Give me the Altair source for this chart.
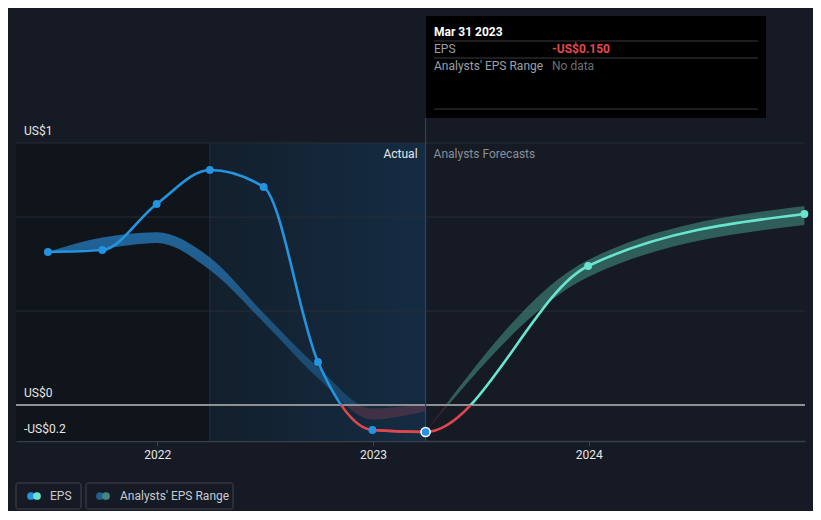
import altair as alt
import pandas as pd

# ---------------- data ----------------
hist_dates = ["2021-06-30", "2021-09-30", "2021-12-31", "2022-03-31",
              "2022-06-30", "2022-09-30", "2022-12-31", "2023-03-31"]
hist_eps = [0.85, 0.861, 1.117, 1.306, 1.211, 0.239, -0.139, -0.15]

past_low = [0.85, 0.87, 0.90, 0.75, 0.46, 0.15, -0.08, -0.035]
past_high = [0.85, 0.93, 0.96, 0.82, 0.51, 0.21, -0.02, 0.005]

fc_dates = ["2023-12-31", "2024-12-31"]
fc_eps = [0.772, 1.061]
fc_low = [0.711, 1.0]
fc_high = [0.806, 1.106]

x_start, x_end = "2021-05-07", "2025-01-01"
y_min, y_max = -0.2, 1.4556
grid_vals = [0.522, 1.044, 1.4556]
ylab_vals = [1.4556, 0.0, -0.2]
ylab_text = ["US$1", "US$0", "-US$0.2"]
year_ticks = ["2022-01-01", "2023-01-01", "2024-01-01"]

W, H = 789, 298

BLUE = "#2394e0"
TURQ = "#68e4cf"
RED = "#e0474c"


def ms(s):
    return int(pd.Timestamp(s).value // 10**6)


# ---------------- tables ----------------
hist_df = pd.DataFrame({"date": hist_dates, "eps": hist_eps})
past_band = pd.DataFrame({"date": hist_dates, "low": past_low, "high": past_high})
fc_line = pd.DataFrame({"date": hist_dates[-2:] + fc_dates, "eps": hist_eps[-2:] + fc_eps})
fc_pts = pd.DataFrame({"date": fc_dates, "eps": fc_eps})
fc_band = pd.DataFrame({"date": hist_dates[-1:] + fc_dates,
                        "low": hist_eps[-1:] + fc_low, "high": hist_eps[-1:] + fc_high})
last_pt = hist_df.tail(1).reset_index(drop=True)
first_pts = hist_df.iloc[:-1].reset_index(drop=True)
grid_df = pd.DataFrame({"y": grid_vals})
ylab_df = pd.DataFrame({"y": ylab_vals, "t": ylab_text})
zero_df = pd.DataFrame({"y": [0.0]})
dark_df = pd.DataFrame({"s": [x_start], "e": [hist_dates[3]]})
act_df = pd.DataFrame({"s": [hist_dates[3]], "e": [hist_dates[-1]]})
one = pd.DataFrame({"k": [0]})
now_df = pd.DataFrame({"date": [hist_dates[-1]]})
mid_df = pd.DataFrame({"date": [hist_dates[3]]})

xs = alt.Scale(type="time", domain=[ms(x_start), ms(x_end)])
ys = alt.Scale(domain=[y_min, y_max], nice=False, zero=False)


def zero_off(hi, lo):
    return float(hi / (hi - lo))


def vgrad(top_col, bot_col, off, top_col2=None):
    stops = [alt.GradientStop(offset=0, color=top_col),
             alt.GradientStop(offset=off, color=top_col2 or top_col),
             alt.GradientStop(offset=off, color=bot_col),
             alt.GradientStop(offset=1, color=bot_col)]
    return alt.LinearGradient(gradient="linear", stops=stops, x1=0, x2=0, y1=0, y2=1)


X = alt.X("date:T", scale=xs, axis=alt.Axis(
    values=[ms(t) for t in year_ticks],
    format="%Y", title=None, grid=False, domainColor="#3b4048", domainWidth=1.5,
    tickColor="#3b4048", tickSize=5, labelColor="#e6e6e6", labelFontSize=12,
    labelPadding=3, labelFont="Roboto"))

layers = []

# ---------------- background regions ----------------
layers.append(alt.Chart(dark_df).mark_rect(fill="#10141b").encode(
    x=alt.X("s:T", scale=xs), x2="e:T", y=alt.value(0), y2=alt.value(H)))
act_grad = alt.LinearGradient(gradient="linear", x1=0, x2=1, y1=0, y2=0, stops=[
    alt.GradientStop(offset=0, color="#131f2c"),
    alt.GradientStop(offset=1, color="#142c43")])
layers.append(alt.Chart(act_df).mark_rect(fill=act_grad).encode(
    x=alt.X("s:T", scale=xs), x2="e:T", y=alt.value(0), y2=alt.value(H)))

layers.append(alt.Chart(grid_df).mark_rule(color="#272d37", strokeWidth=1).encode(
    y=alt.Y("y:Q", scale=ys, axis=None), x=alt.value(0), x2=alt.value(W)))
layers.append(alt.Chart(mid_df).mark_rule(color="#1b3149", strokeWidth=1).encode(
    x=alt.X("date:T", scale=xs), y=alt.value(0), y2=alt.value(H)))

# ---------------- bands ----------------
pb_off = zero_off(max(past_high), min(past_low))
layers.append(alt.Chart(past_band).mark_area(
    interpolate="monotone",
    fill=vgrad("rgba(38,120,185,0.80)", "rgba(130,60,80,0.40)", pb_off,
               "rgba(38,120,185,0.35)")).encode(
    x=X, y=alt.Y("high:Q", scale=ys, axis=None), y2="low:Q"))

fb_off = zero_off(max(fc_band["high"]), min(fc_band["low"]))
layers.append(alt.Chart(fc_band).mark_area(
    interpolate="monotone",
    fill=vgrad("rgba(95,214,187,0.36)", "rgba(200,70,80,0.22)", fb_off)).encode(
    x=X, y=alt.Y("high:Q", scale=ys, axis=None), y2="low:Q"))

layers.append(alt.Chart(zero_df).mark_rule(color="#8e9196", strokeWidth=2).encode(
    y=alt.Y("y:Q", scale=ys, axis=None), x=alt.value(0), x2=alt.value(W)))
layers.append(alt.Chart(now_df).mark_rule(color="#1f4a6e", strokeWidth=1.2).encode(
    x=alt.X("date:T", scale=xs), y=alt.value(-25), y2=alt.value(H)))

# ---------------- lines ----------------
h_off = zero_off(max(hist_eps), min(hist_eps))
layers.append(alt.Chart(hist_df).mark_line(
    interpolate="monotone", strokeWidth=2.6, stroke=vgrad(BLUE, RED, h_off)).encode(
    x=X, y=alt.Y("eps:Q", scale=ys, axis=None)))

f_off = zero_off(max(fc_line["eps"]), min(fc_line["eps"]))
layers.append(alt.Chart(fc_line).mark_line(
    interpolate="monotone", strokeWidth=2.6, stroke=vgrad(TURQ, RED, f_off)).encode(
    x=X, y=alt.Y("eps:Q", scale=ys, axis=None)))

layers.append(alt.Chart(first_pts).mark_circle(color=BLUE, size=62, opacity=1).encode(
    x=X, y=alt.Y("eps:Q", scale=ys, axis=None)))
layers.append(alt.Chart(fc_pts).mark_circle(color=TURQ, size=62, opacity=1).encode(
    x=X, y=alt.Y("eps:Q", scale=ys, axis=None)))
layers.append(alt.Chart(last_pt).mark_circle(
    color=BLUE, size=85, stroke="white", strokeWidth=1.5, opacity=1).encode(
    x=X, y=alt.Y("eps:Q", scale=ys, axis=None)))

# ---------------- labels ----------------
layers.append(alt.Chart(ylab_df).mark_text(
    align="left", baseline="middle", dy=-12, fontSize=12, color="#e6e6e6",
    font="Roboto").encode(
    y=alt.Y("y:Q", scale=ys, axis=None), x=alt.value(8), text="t:N"))

layers.append(alt.Chart(now_df).mark_text(
    align="right", baseline="middle", dx=-8, fontSize=12, color="#e8e8e8",
    font="Roboto", text="Actual").encode(x=alt.X("date:T", scale=xs), y=alt.value(11)))
layers.append(alt.Chart(now_df).mark_text(
    align="left", baseline="middle", dx=8, fontSize=12, color="#8a8f98",
    font="Roboto", text="Analysts Forecasts").encode(x=alt.X("date:T", scale=xs), y=alt.value(11)))

# ---------------- tooltip box ----------------
layers.append(alt.Chart(one).mark_rect(fill="#000000").encode(
    x=alt.value(410), x2=alt.value(750), y=alt.value(-127), y2=alt.value(-25)))
for v in (-102, -85, -34):
    layers.append(alt.Chart(one).mark_rule(color="#3a3a3a", strokeWidth=1).encode(
        x=alt.value(418), x2=alt.value(742), y=alt.value(v)))


def txt(t, x, y, color, weight="normal", size=12):
    return alt.Chart(one).mark_text(
        align="left", baseline="middle", fontSize=size, color=color,
        fontWeight=weight, font="Roboto", text=t).encode(
        x=alt.value(x), y=alt.value(y))


layers += [
    txt("Mar 31 2023", 418, -111, "#ffffff", "bold"),
    txt("EPS", 418, -94, "#9aa0a8"),
    txt("-US$0.150", 536, -94, "#e5484d", "bold"),
    txt("Analysts' EPS Range", 418, -77, "#9aa0a8"),
    txt("No data", 536, -77, "#6b6f75"),
]


# ---------------- legend ----------------
def leg_box(x0, x1):
    return alt.Chart(one).mark_rect(
        fill="#151a24", stroke="#40454e", strokeWidth=1, cornerRadius=2).encode(
        x=alt.value(x0), x2=alt.value(x1), y=alt.value(340), y2=alt.value(366))


def dot(x, color):
    return alt.Chart(one).mark_circle(color=color, size=60, opacity=1).encode(
        x=alt.value(x), y=alt.value(353))


layers += [
    leg_box(0, 65), dot(15, BLUE), dot(21, TURQ), txt("EPS", 34, 353, "#c7cbd1"),
    leg_box(70, 217), dot(84, "#245e8c"), dot(90, "#3f8a80"),
    txt("Analysts' EPS Range", 104, 353, "#c7cbd1"),
]

chart = alt.layer(*layers).properties(
    width=W, height=H,
    background="#151a24",
    padding={"left": 8, "top": 135, "right": 8, "bottom": 70},
    autosize=alt.AutoSizeParams(type="none"),
).configure_view(stroke=None)

chart.save("out.html", embed_options={"renderer": "svg", "actions": False})
